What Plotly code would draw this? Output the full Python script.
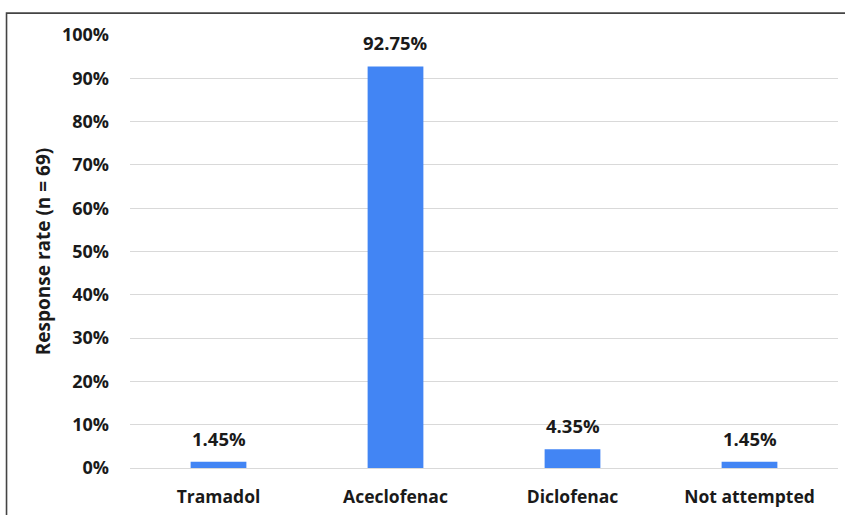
import plotly.graph_objects as go

# Response data
drugs = ["Tramadol", "Aceclofenac", "Diclofenac", "Not attempted"]
rates = [1.45, 92.75, 4.35, 1.45]
y_ticks = [0, 10, 20, 30, 40, 50, 60, 70, 80, 90, 100]
y_tick_text = [f"{v}%" for v in y_ticks]

BAR_COLOR = "#4285F4"
FONT = "Open Sans"
TEXT_COLOR = "#1a1a1a"

fig = go.Figure()
fig.add_trace(go.Bar(
    x=drugs,
    y=rates,
    marker=dict(color=BAR_COLOR, line=dict(width=0)),
    width=0.315,
    hoverinfo="skip",
))

# value labels above each bar
for d, r in zip(drugs, rates):
    fig.add_annotation(
        x=d, y=r, text=f"<b>{r:.2f}%</b>", showarrow=False,
        yanchor="bottom", yshift=9,
        font=dict(family=FONT, size=18.5, color=TEXT_COLOR),
    )

# thin frame along the left and top edges
fig.add_shape(
    type="path", xref="paper", yref="paper",
    path="M -0.1744 -0.3 L -0.1744 1.0506 L 1.2 1.0506",
    line=dict(color="#444444", width=1.6),
)

fig.update_layout(
    width=845, height=515,
    margin=dict(l=130, r=7, t=35, b=45),
    paper_bgcolor="white", plot_bgcolor="white",
    showlegend=False,
    bargap=0.685,
    font=dict(family=FONT, color=TEXT_COLOR),
    xaxis=dict(
        showgrid=False, showline=False, zeroline=False,
        tickfont=dict(family=FONT, size=17.5, color=TEXT_COLOR, weight="bold"),
        ticklabelstandoff=16,
    ),
    yaxis=dict(
        range=[0, 100], tickvals=y_ticks, ticktext=y_tick_text,
        showgrid=True, gridcolor="#D9D9D9", gridwidth=1,
        zeroline=True, zerolinecolor="#D9D9D9", zerolinewidth=1,
        showline=False,
        tickfont=dict(family=FONT, size=18, color=TEXT_COLOR, weight="bold"),
        ticklabelstandoff=20,
        title=dict(text="<b>Response rate (n = 69)</b>",
                   font=dict(family=FONT, size=19, color=TEXT_COLOR),
                   standoff=6),
    ),
)

fig.write_html("out.html")
